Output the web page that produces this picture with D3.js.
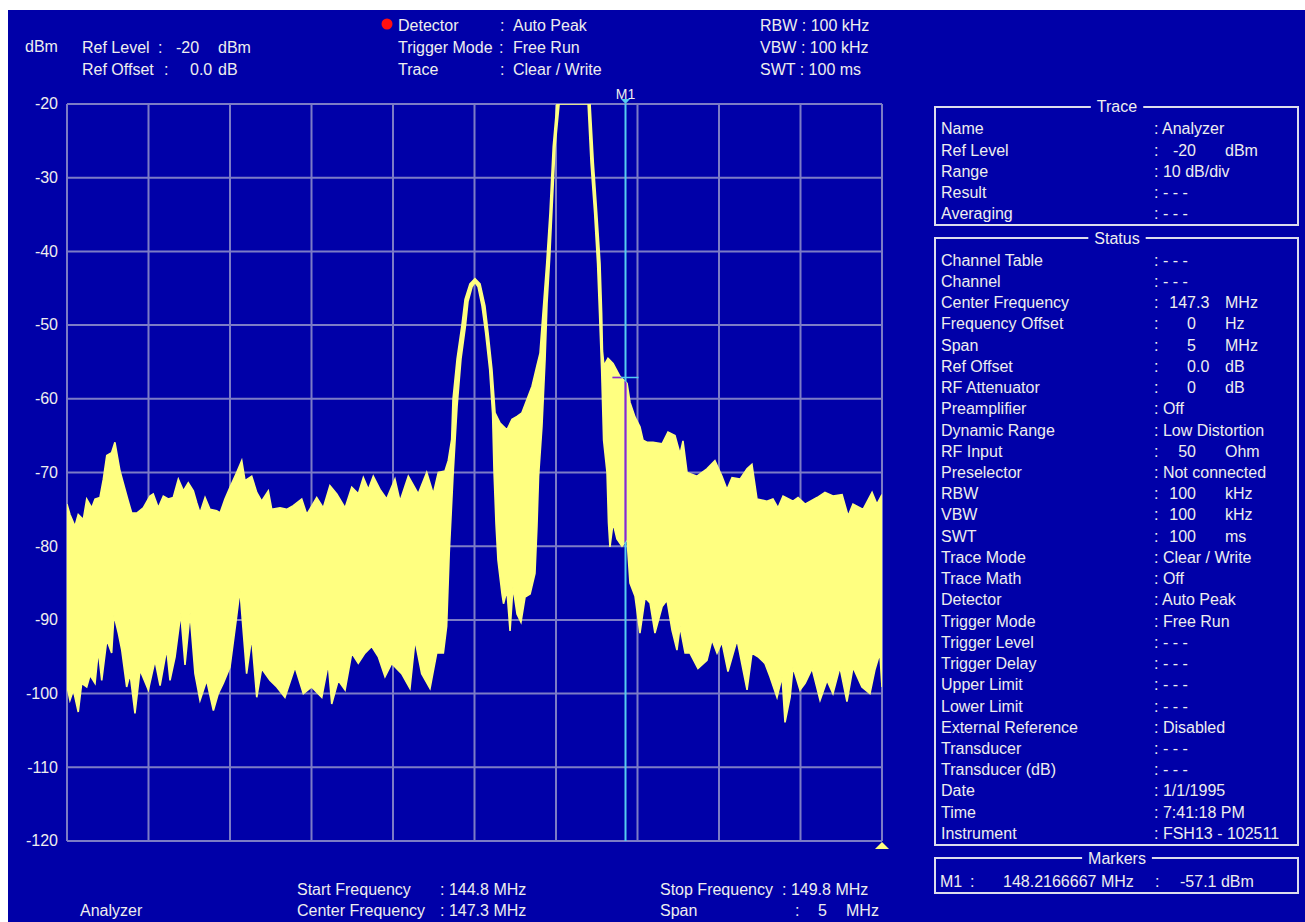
<!DOCTYPE html>
<html><head><meta charset="utf-8">
<script src="https://cdn.jsdelivr.net/npm/d3@7"></script>
<style>
html,body{margin:0;padding:0;background:#ffffff;}
svg{display:block;}
text{font-family:"Liberation Sans",Arial,sans-serif;font-size:16px;fill:#eeeeee;white-space:pre;}
</style></head><body>
<svg id="chart" width="1305" height="922"></svg>
<script>
// ---------------- data ----------------
const freqStart = 144.8, freqStop = 149.8;           // MHz
const refLevel = -20, bottomLevel = -120;           // dBm
const levelTicks = [-20,-30,-40,-50,-60,-70,-80,-90,-100,-110,-120];
const freqGrid = [144.8,145.3,145.8,146.3,146.8,147.3,147.8,148.3,148.8,149.3,149.8];

// upper (max-hold) envelope of the displayed trace
const maxFreq = [144.800,144.818,144.849,144.869,144.900,144.921,144.952,144.972,145.002,145.023,145.044,145.074,145.094,145.125,145.156,145.176,145.197,145.228,145.268,145.309,145.329,145.360,145.391,145.421,145.452,145.483,145.514,145.544,145.575,145.596,145.616,145.647,145.677,145.718,145.739,145.769,145.800,145.841,145.872,145.892,145.933,145.964,145.994,146.035,146.056,146.107,146.148,146.188,146.240,146.271,146.332,146.372,146.413,146.455,146.506,146.547,146.587,146.618,146.649,146.679,146.720,146.761,146.812,146.843,146.894,146.955,147.007,147.047,147.078,147.119,147.139,147.160,147.168,147.193,147.223,147.242,147.272,147.303,147.334,147.364,147.383,147.407,147.426,147.457,147.499,147.530,147.561,147.591,147.622,147.653,147.683,147.702,147.720,147.743,147.763,147.783,147.806,148.009,148.029,148.050,148.070,148.080,148.085,148.094,148.119,148.150,148.193,148.236,148.254,148.285,148.315,148.334,148.358,148.395,148.451,148.487,148.530,148.561,148.579,148.604,148.665,148.726,148.775,148.818,148.849,148.880,148.929,148.972,149.002,149.033,149.094,149.131,149.162,149.193,149.254,149.285,149.328,149.402,149.450,149.499,149.555,149.592,149.622,149.684,149.739,149.769,149.800];
const maxLevel = [-74.3,-75.7,-77.3,-75.7,-76.4,-73.6,-74.8,-73.6,-73.4,-70.9,-67.7,-67.3,-65.9,-69.8,-72.3,-73.9,-75.5,-75.5,-74.8,-73.2,-72.9,-74.8,-73.2,-73.6,-73.4,-70.9,-72.5,-71.4,-72.5,-74.1,-75.5,-73.4,-75.0,-75.2,-75.5,-73.6,-72.0,-70.0,-68.4,-71.1,-70.5,-72.7,-73.9,-72.5,-75.0,-74.8,-75.0,-74.5,-73.6,-75.7,-73.4,-74.8,-71.8,-72.9,-74.8,-72.0,-72.9,-70.7,-72.3,-70.5,-72.3,-73.6,-70.9,-73.9,-70.5,-72.9,-70.0,-72.9,-70.0,-69.8,-68.4,-65.5,-60.1,-54.6,-50.0,-46.5,-44.4,-43.7,-44.4,-47.4,-51.0,-56.0,-61.9,-63.3,-64.2,-62.8,-62.4,-61.9,-60.1,-58.3,-55.5,-53.8,-48.4,-41.6,-34.8,-25.8,-20.0,-20.0,-28.0,-34.8,-41.6,-48.4,-53.5,-55.5,-54.5,-55.2,-57.0,-57.9,-60.5,-62.5,-63.8,-65.6,-65.9,-65.9,-66.1,-64.5,-65.0,-67.5,-65.7,-70.0,-70.5,-69.5,-68.4,-70.5,-72.3,-70.7,-70.9,-69.5,-68.9,-73.6,-73.9,-73.6,-74.8,-73.2,-73.9,-73.4,-74.3,-73.4,-72.7,-73.2,-73.0,-75.9,-74.3,-75.0,-72.7,-74.3,-73.0];

// lower (min) envelope of the displayed trace
const minFreq = [144.800,144.818,144.839,144.869,144.890,144.921,144.941,144.972,144.992,145.013,145.044,145.074,145.088,145.115,145.136,145.166,145.187,145.217,145.248,145.299,145.340,145.371,145.412,145.432,145.463,145.498,145.524,145.555,145.585,145.616,145.657,145.698,145.728,145.759,145.800,145.841,145.861,145.882,145.902,145.933,145.964,145.994,146.045,146.087,146.137,146.199,146.250,146.301,146.363,146.403,146.424,146.464,146.506,146.547,146.587,146.628,146.669,146.710,146.751,146.792,146.853,146.904,146.935,146.976,147.027,147.068,147.109,147.129,147.145,147.168,147.193,147.217,147.245,147.260,147.285,147.303,147.322,147.346,147.368,147.393,147.411,147.420,147.432,147.444,147.469,147.478,147.499,147.518,147.536,147.561,147.585,147.610,147.641,147.671,147.683,147.693,147.714,147.733,147.745,147.761,147.776,147.794,147.819,147.997,148.015,148.037,148.055,148.067,148.080,148.092,148.113,148.122,148.131,148.150,148.174,148.205,148.236,148.254,148.285,148.315,148.346,148.377,148.407,148.451,148.481,148.512,148.542,148.561,148.592,148.622,148.671,148.726,148.757,148.788,148.818,148.855,148.911,148.972,149.002,149.039,149.082,149.113,149.156,149.187,149.205,149.236,149.254,149.297,149.328,149.371,149.420,149.463,149.499,149.542,149.585,149.622,149.677,149.726,149.756,149.787,149.800];
const minLevel = [-99.0,-100.9,-99.5,-102.5,-98.6,-99.1,-97.5,-98.6,-94.1,-98.2,-92.7,-94.5,-89.3,-91.8,-94.1,-99.1,-97.3,-102.7,-96.8,-99.5,-95.5,-98.9,-93.9,-98.2,-95.0,-89.1,-96.1,-89.1,-97.3,-100.9,-98.2,-102.3,-100.0,-98.6,-96.4,-89.5,-85.9,-91.8,-97.3,-92.3,-100.5,-96.6,-98.2,-99.1,-100.5,-96.4,-100.0,-99.1,-100.5,-95.9,-101.4,-98.2,-99.5,-94.5,-95.9,-94.5,-93.6,-95.0,-97.7,-95.9,-97.3,-99.3,-92.7,-97.3,-99.3,-94.5,-94.5,-90.9,-80.9,-70.5,-61.0,-54.6,-50.0,-46.8,-44.8,-44.2,-44.8,-47.4,-51.0,-56.0,-62.0,-70.0,-77.0,-81.9,-86.5,-87.8,-86.0,-91.5,-85.5,-89.2,-90.3,-86.9,-86.5,-83.7,-77.4,-70.5,-63.7,-54.6,-47.0,-41.0,-34.0,-25.8,-20.0,-20.0,-28.0,-34.8,-41.6,-48.4,-56.0,-65.6,-70.0,-76.8,-80.1,-76.8,-79.0,-80.0,-79.1,-85.0,-86.8,-91.8,-87.0,-87.7,-91.8,-88.2,-87.3,-91.4,-94.1,-90.9,-94.5,-94.5,-96.6,-95.5,-92.7,-94.5,-93.0,-97.0,-92.7,-99.5,-94.5,-95.0,-95.9,-97.7,-100.5,-97.7,-103.9,-100.5,-96.4,-99.5,-98.6,-96.6,-100.9,-98.2,-100.0,-96.4,-101.1,-96.4,-99.1,-100.0,-96.8,-94.5,-99.1];

const markerName = "M1", markerFreq = 148.2166667, markerLevel = -57.1;

const headerLeft = [["Ref Level", ":", "-20", "dBm"], ["Ref Offset", ":", "0.0", "dB"]];
const headerMidLabels = ["Detector", "Trigger Mode", "Trace"];
const headerMidValues = ["Auto Peak", "Free Run", "Clear / Write"];
const headerRight = ["RBW : 100 kHz", "VBW : 100 kHz", "SWT : 100 ms"];

const traceLabels = ["Name","Ref Level","Range","Result","Averaging"];
const traceValues = ["Analyzer","-20","10 dB/div","- - -","- - -"];
const traceUnits  = ["","dBm","","",""];

const statusLabels = ["Channel Table","Channel","Center Frequency","Frequency Offset","Span","Ref Offset","RF Attenuator","Preamplifier","Dynamic Range","RF Input","Preselector","RBW","VBW","SWT","Trace Mode","Trace Math","Detector","Trigger Mode","Trigger Level","Trigger Delay","Upper Limit","Lower Limit","External Reference","Transducer","Transducer (dB)","Date","Time","Instrument"];
const statusValues = ["- - -","- - -","147.3","0","5","0.0","0","Off","Low Distortion","50","Not connected","100","100","100","Clear / Write","Off","Auto Peak","Free Run","- - -","- - -","- - -","- - -","Disabled","- - -","- - -","1/1/1995","7:41:18 PM","FSH13 - 102511"];
const statusUnits  = ["","","MHz","Hz","MHz","dB","dB","","","Ohm","","kHz","kHz","ms","","","","","","","","","","","","","",""];

// ---------------- drawing ----------------
const BG = "#0000a8", GRID = "#7c7cc6", TRACE = "#ffff80", CYAN = "#55ccf0", PURPLE = "#9a22c8", TXT = "#eeeeee", BOX = "#dcdcec";
const svg = d3.select("#chart");
svg.append("rect").attr("x", 8).attr("y", 10).attr("width", 1297).attr("height", 912).attr("fill", BG);

const plot = {left: 67, right: 882, top: 104, bottom: 841};
const x = d3.scaleLinear().domain([freqStart, freqStop]).range([plot.left, plot.right]);
const y = d3.scaleLinear().domain([bottomLevel, refLevel]).range([plot.bottom, plot.top]);

const defs = svg.append("defs");
defs.append("clipPath").attr("id", "plotClip").append("rect")
  .attr("x", plot.left).attr("y", plot.top).attr("width", plot.right - plot.left).attr("height", plot.bottom - plot.top);

// grid
const grid = svg.append("g").attr("stroke", GRID).attr("stroke-width", 2).attr("fill", "none");
grid.selectAll(".v").data(freqGrid).enter().append("line")
  .attr("x1", d => x(d)).attr("x2", d => x(d)).attr("y1", y(refLevel)).attr("y2", y(bottomLevel));
grid.selectAll(".h").data(levelTicks).enter().append("line")
  .attr("y1", d => y(d)).attr("y2", d => y(d)).attr("x1", x(freqStart)).attr("x2", x(freqStop));

// y axis labels (plain hyphen minus as on the instrument)
const yAxis = d3.axisLeft(y).tickValues(levelTicks).tickSize(0).tickPadding(9).tickFormat(d => String(d));
const ya = svg.append("g").attr("transform", `translate(${plot.left},0)`).call(yAxis);
ya.select(".domain").remove();
ya.selectAll("text").attr("fill", TXT).style("font-size", "16px").style("font-family", '"Liberation Sans",Arial,sans-serif').attr("dy", "0.3em");

// trace polygon (max envelope forward, min envelope backward)
const upper = maxFreq.map((f, i) => [x(f), y(maxLevel[i])]);
const lower = minFreq.map((f, i) => [x(f), y(minLevel[i])]).reverse();
const traceD = d3.line()(upper.concat(lower)) + "Z";
defs.append("clipPath").attr("id", "traceClip").append("path").attr("d", traceD);
svg.append("g").attr("clip-path", "url(#plotClip)").append("path")
  .attr("d", traceD).attr("fill", TRACE).attr("stroke", TRACE).attr("stroke-width", 1.6).attr("stroke-linejoin", "miter");

// marker
const mx = Math.round(x(markerFreq)) + 1.5, my = Math.round(y(markerLevel)) + 0.5;
function markerShapes(g, color) {
  g.append("line").attr("x1", mx).attr("x2", mx).attr("y1", plot.top).attr("y2", plot.bottom).attr("stroke", color).attr("stroke-width", 2);
  g.append("line").attr("x1", mx - 13).attr("x2", mx + 13).attr("y1", my).attr("y2", my).attr("stroke", color).attr("stroke-width", 1.5);
}
markerShapes(svg.append("g"), CYAN);
markerShapes(svg.append("g").attr("clip-path", "url(#traceClip)"), PURPLE);
svg.append("path").attr("d", `M${mx - 4.5},${plot.top - 5}L${mx + 4.5},${plot.top - 5}L${mx},${plot.top}Z`).attr("fill", CYAN);
svg.append("text").attr("x", mx).attr("y", 99).attr("text-anchor", "middle").style("font-size", "14px").attr("fill", CYAN).text(markerName);

// bottom-right reference triangle
svg.append("path").attr("d", `M${x(freqStop)},${plot.bottom + 1}L${x(freqStop) + 7},${plot.bottom + 8}L${x(freqStop) - 7},${plot.bottom + 8}Z`).attr("fill", TRACE);

// text helper
function T(xp, yp, s, anchor, color) {
  return svg.append("text").attr("x", xp).attr("y", yp).attr("text-anchor", anchor || "start").attr("fill", color || TXT).text(s);
}

// header
T(25, 52, "dBm");
T(82, 53, headerLeft[0][0]); T(158, 53, headerLeft[0][1]); T(176, 53, headerLeft[0][2]); T(218, 53, headerLeft[0][3]);
T(82, 75, headerLeft[1][0]); T(164, 75, headerLeft[1][1]); T(190, 75, headerLeft[1][2]); T(218, 75, headerLeft[1][3]);
svg.append("circle").attr("cx", 387).attr("cy", 24).attr("r", 5.5).attr("fill", "#ff1010");
const midY = [31, 53, 75], midColon = [500, 499, 500];
headerMidLabels.forEach((l, i) => { T(398, midY[i], l); T(midColon[i], midY[i], ":"); T(513, midY[i], headerMidValues[i]); });
headerRight.forEach((s, i) => T(760, midY[i], s));

// footer
T(80, 916, "Analyzer");
T(297, 895, "Start Frequency"); T(440, 895, ": 144.8 MHz");
T(297, 916, "Center Frequency"); T(440, 916, ": 147.3 MHz");
T(660, 895, "Stop Frequency"); T(782, 895, ": 149.8 MHz");
T(660, 916, "Span"); T(795, 916, ":"); T(818, 916, "5"); T(846, 916, "MHz");

// right panel
const boxL = 935, boxR = 1298, labX = 941, colonX = 1154, numX = 1196, unitX = 1225;
function box(top, bottom, title, titleBase) {
  svg.append("rect").attr("x", boxL).attr("y", top).attr("width", boxR - boxL).attr("height", bottom - top)
    .attr("fill", "none").attr("stroke", BOX).attr("stroke-width", 2);
  const t = T(1117, titleBase, title, "middle");
  const bb = t.node().getBBox();
  svg.insert("rect", () => t.node()).attr("x", bb.x - 6).attr("y", top - 3).attr("width", bb.width + 12).attr("height", 6).attr("fill", BG);
}
function rows(labels, values, units, base) {
  labels.forEach((l, i) => {
    const yy = base + i * 21.23;
    T(labX, yy, l);
    if (units[i]) {
      const v = values[i], dot = v.indexOf(".");
      T(colonX, yy, ":");
      T(numX, yy, dot < 0 ? v : v.slice(0, dot), "end");
      if (dot >= 0) T(numX, yy, v.slice(dot));
      T(unitX, yy, units[i]);
    } else {
      T(colonX, yy, ": " + values[i]);
    }
  });
}
box(107, 225, "Trace", 112);
rows(traceLabels, traceValues, traceUnits, 134.3);
box(238, 845, "Status", 244);
rows(statusLabels, statusValues, statusUnits, 265.7);
box(858, 893, "Markers", 864);
T(940, 886.5, markerName, "start", CYAN);
T(970, 886.5, ":");
T(1003, 886.5, markerFreq.toFixed(7) + " MHz");
T(1155, 886.5, ":");
T(1180, 886.5, markerLevel.toFixed(1) + " dBm");
</script>
</body></html>
